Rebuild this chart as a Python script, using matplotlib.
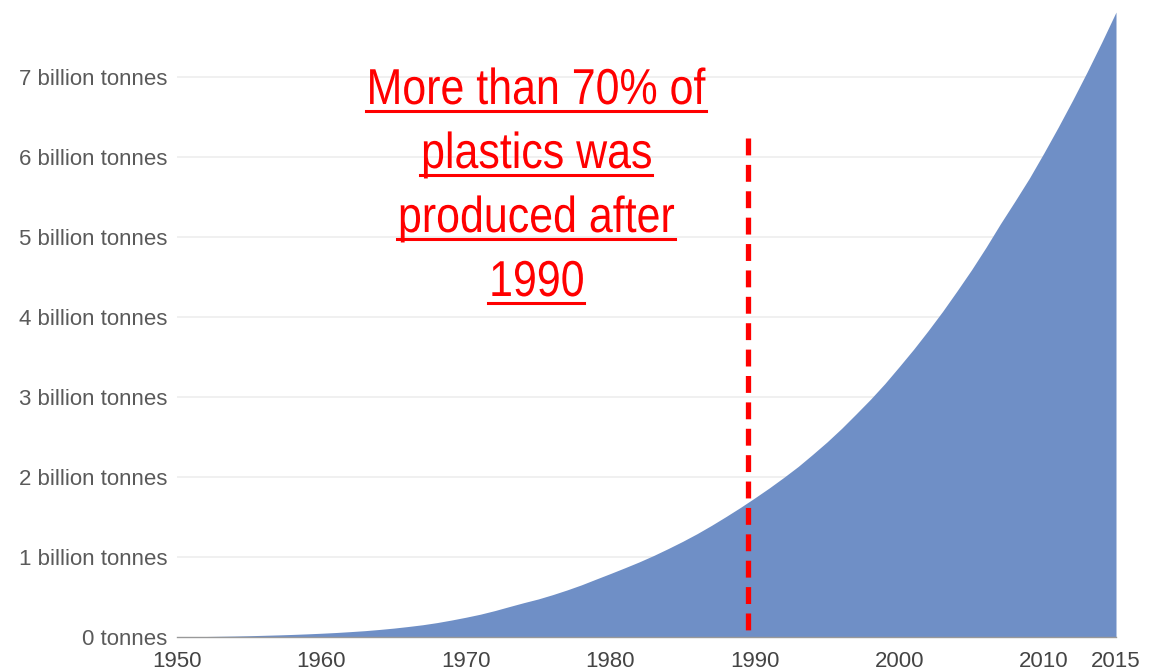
import matplotlib
matplotlib.use("Agg")
import matplotlib.pyplot as plt
from matplotlib.font_manager import FontProperties
from matplotlib.textpath import TextPath
from matplotlib.patches import PathPatch
from matplotlib.lines import Line2D
from matplotlib.transforms import Affine2D, IdentityTransform

# cumulative global plastic production, billion tonnes
years = list(range(1950, 2016))
cumulative = [0.002, 0.004, 0.006, 0.009, 0.012, 0.016, 0.021, 0.026, 0.032, 0.039,
              0.047, 0.056, 0.067, 0.079, 0.094, 0.111, 0.131, 0.153, 0.180, 0.212,
              0.247, 0.285, 0.330, 0.380, 0.429, 0.475, 0.529, 0.588, 0.652, 0.723,
              0.793, 0.865, 0.939, 1.019, 1.105, 1.195, 1.291, 1.395, 1.505, 1.619,
              1.739, 1.863, 1.994, 2.131, 2.282, 2.438, 2.606, 2.786, 2.970, 3.167,
              3.380, 3.598, 3.829, 4.070, 4.326, 4.589, 4.869, 5.164, 5.445, 5.733,
              6.046, 6.371, 6.709, 7.061, 7.428, 7.809]

y_ticks = [0, 1, 2, 3, 4, 5, 6, 7]
y_labels = ['0 tonnes', '1 billion tonnes', '2 billion tonnes', '3 billion tonnes',
            '4 billion tonnes', '5 billion tonnes', '6 billion tonnes', '7 billion tonnes']
x_ticks = [1950, 1960, 1970, 1980, 1990, 2000, 2010, 2015]

marker_year = 1989.5
marker_top = 6.24
note_lines = ['More than 70% of', 'plastics was', 'produced after', '1990']

plt.rcParams['font.family'] = ['Liberation Sans', 'DejaVu Sans']

W, H = 1166, 672
fig = plt.figure(figsize=(W / 100, H / 100), dpi=100)
ax = fig.add_axes([177 / W, 35 / H, (1116 - 177) / W, 625 / H])

ax.fill_between(years, cumulative, 0, color='#6f8fc6', linewidth=0, zorder=2)
ax.set_xlim(1950, 2015)
ax.set_ylim(0, 7.81)

for v in y_ticks[1:]:
    ax.axhline(v, color='#ededed', lw=1.2, zorder=1)

ax.set_yticks(y_ticks)
ax.set_yticklabels(y_labels)
ax.set_xticks(x_ticks)
ax.tick_params(axis='y', length=0, pad=7, labelsize=16, labelcolor='#5a5a5a')
ax.tick_params(axis='x', length=0, pad=10, labelsize=16, labelcolor='#444444')
for s in ['top', 'right', 'left']:
    ax.spines[s].set_visible(False)
ax.spines['bottom'].set_color('#999999')
ax.spines['bottom'].set_linewidth(1)

# dashed marker line, drawn top-down so it starts with a full dash
ax.plot([marker_year, marker_year], [marker_top, 0], color='#ff0000', lw=3.8,
        linestyle=(0, (3.2, 1.8)), zorder=4, solid_capstyle='butt')

# red underlined note, squeezed sideways to look like a narrow font
prop = FontProperties(family='Liberation Sans')
em = 50.5
squeeze = 0.85
baselines = [104, 168, 232, 296]
for line, b in zip(note_lines, baselines):
    tp = TextPath((0, 0), line, size=em, prop=prop)
    ext = tp.get_extents()
    w = ext.x1 * squeeze
    x0 = 536 - w / 2
    tr = Affine2D().scale(squeeze, 1).translate(x0, H - b)
    fig.add_artist(PathPatch(tr.transform_path(tp), color='#ff0000', lw=0,
                             transform=IdentityTransform(), zorder=5))
    uy = H - b - 7
    fig.add_artist(Line2D([x0 - 1, x0 + w + 1], [uy, uy], color='#ff0000', lw=2.2,
                          transform=IdentityTransform(), zorder=5))

fig.savefig('out.png', dpi=100)
